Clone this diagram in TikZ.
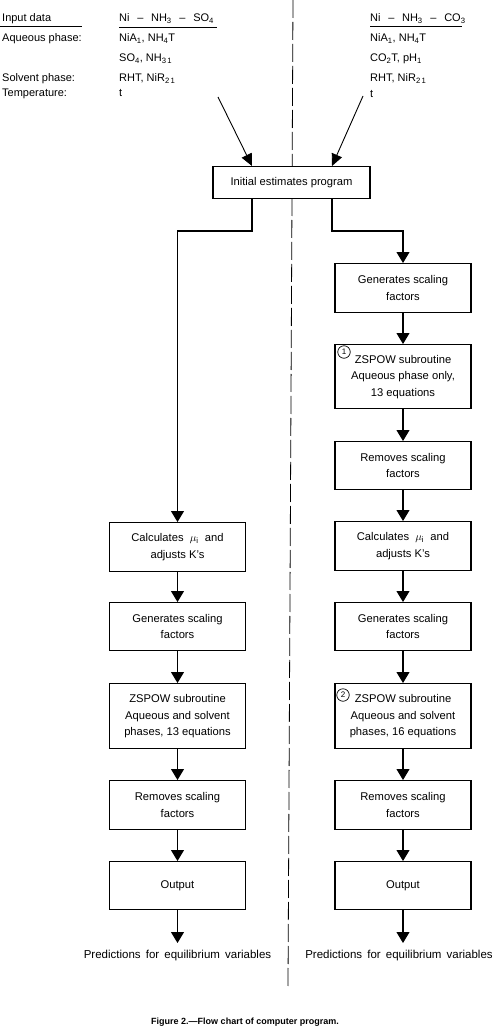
\documentclass[tikz,border=0pt]{standalone}
\usepackage{fontspec}
\setmainfont{Liberation Sans}
\usetikzlibrary{arrows.meta}
\newcommand{\csub}[1]{\textsubscript{#1}}
\newcommand{\dsh}{\hspace{0.7em}--\hspace{0.7em}}
\newcommand{\wsp}{\hspace{0.45em}}
\begin{document}
\begin{tikzpicture}[x=1pt,y=-1pt,
  lbl/.style={anchor=base west, inner sep=0pt, font=\fontsize{11}{13}\selectfont},
  box/.style={draw, line width=1.3pt, fill=white, minimum width=136pt, inner sep=0pt,
              align=center, font=\fontsize{11.2}{16.5}\selectfont, anchor=north},
  link/.style={line width=1.1pt, -{Triangle[width=13pt,length=11pt]}},
  feed/.style={line width=0.9pt, -{Triangle[width=11pt,length=12pt]}},
  uline/.style={line width=0.8pt},
  dashline/.style={line width=0.8pt, dash pattern=on 18pt off 4pt},
  num/.style={circle, draw, line width=0.7pt, inner sep=0pt, minimum size=12.5pt,
              font=\fontsize{8}{8}\selectfont},
  pred/.style={anchor=base, inner sep=0pt, font=\fontsize{11.5}{13}\selectfont},
  captext/.style={anchor=base, inner sep=0pt, font=\bfseries\fontsize{9}{10}\selectfont}
]
\useasboundingbox (0,0) rectangle (492,1030);

% dashed divider
\draw[dashline] (293,0) -- (288,987);

% input data, left
\node[lbl] (hin) at (2,22) {Input data};
\node[lbl] (haq) at (2,42) {Aqueous phase:};
\node[lbl] (hsv) at (2,82) {Solvent phase:};
\node[lbl] (htp) at (2,97) {Temperature:};
\node[lbl] (lhd) at (119,22) {Ni\dsh NH\csub{3}\dsh SO\csub{4}};
\node[lbl] (la1) at (119,42) {NiA\csub{1}, NH\csub{4}T};
\node[lbl] (la2) at (119,62) {SO\csub{4}, NH\csub{3\,1}};
\node[lbl] (ls1) at (119,82) {RHT, NiR\csub{2\,1}};
\node[lbl] (lt)  at (119,97) {t};
\draw[uline] (0,26.5) -- (82,26.5);
\draw[uline] (119,27.5) -- (217,27.5);

% input data, right
\node[lbl] (rhd) at (370,22) {Ni\dsh NH\csub{3}\dsh CO\csub{3}};
\node[lbl] (ra1) at (370,42) {NiA\csub{1}, NH\csub{4}T};
\node[lbl] (ra2) at (370,62) {CO\csub{2}T, pH\csub{1}};
\node[lbl] (rs1) at (370,82) {RHT, NiR\csub{2\,1}};
\node[lbl] (rt)  at (370,98) {t};
\draw[uline] (370,26.5) -- (462,26.5);

% initial program
\node[box, minimum width=157pt, minimum height=32pt] (init) at (291.5,166) {Initial estimates program};

% left column
\node[box, minimum height=49pt] (calcL) at (177.5,522) {Calculates~ $\mu_{\mathrm{i}}$ ~and\\adjusts K's};
\node[box, minimum height=48pt] (genL)  at (177.5,602) {Generates scaling\\factors};
\node[box, minimum height=65pt] (zL)    at (177.5,683) {ZSPOW subroutine\\Aqueous and solvent\\phases, 13 equations};
\node[box, minimum height=49pt] (remL)  at (177.5,780) {Removes scaling\\factors};
\node[box, minimum height=48pt] (outL)  at (177.5,861) {Output};
\node[pred] (predL) at (177.5,958) {Predictions\wsp for\wsp equilibrium\wsp variables};

% right column
\node[box, minimum height=49pt] (genR1) at (403,263) {Generates scaling\\factors};
\node[box, minimum height=64pt] (zR1)   at (403,344) {ZSPOW subroutine\\Aqueous phase only,\\13 equations};
\node[box, minimum height=48pt] (remR1) at (403,441) {Removes scaling\\factors};
\node[box, minimum height=49pt] (calcR) at (403,521) {Calculates~ $\mu_{\mathrm{i}}$ ~and\\adjusts K's};
\node[box, minimum height=48pt] (genR2) at (403,602) {Generates scaling\\factors};
\node[box, minimum height=65pt] (zR2)   at (403,683) {ZSPOW subroutine\\Aqueous and solvent\\phases, 16 equations};
\node[box, minimum height=49pt] (remR2) at (403,780) {Removes scaling\\factors};
\node[box, minimum height=48pt] (outR)  at (403,861) {Output};
\node[pred] (predR) at (399,958) {Predictions\wsp for\wsp equilibrium\wsp variables};

\node[num] (n1) at (344,352) {1};
\node[num] (n2) at (343,695) {2};

% coordinates
\coordinate (aL) at (252,0);
\coordinate (aR) at (332,0);
\coordinate (jL) at (177.5,231);
\coordinate (jR) at (403,231);
\coordinate (sL) at (218,97);
\coordinate (sR) at (363,96);
\coordinate (eL) at (177.5,943);
\coordinate (eR) at (403,943);

% feeds into initial program
\draw[feed] (sL) -- (init.north -| aL);
\draw[feed] (sR) -- (init.north -| aR);

% left flow
\draw[link] (init.south -| aL) |- (jL) -- (calcL.north);
\draw[link] (calcL) -- (genL);
\draw[link] (genL) -- (zL);
\draw[link] (zL) -- (remL);
\draw[link] (remL) -- (outL);
\draw[link] (outL) -- (eL);

% right flow
\draw[link] (init.south -| aR) |- (jR) -- (genR1.north);
\draw[link] (genR1) -- (zR1);
\draw[link] (zR1) -- (remR1);
\draw[link] (remR1) -- (calcR);
\draw[link] (calcR) -- (genR2);
\draw[link] (genR2) -- (zR2);
\draw[link] (zR2) -- (remR2);
\draw[link] (remR2) -- (outR);
\draw[link] (outR) -- (eR);

% caption
\node[captext] (caption) at (245,1024) {Figure 2.—Flow chart of computer program.};
\end{tikzpicture}
\end{document}
